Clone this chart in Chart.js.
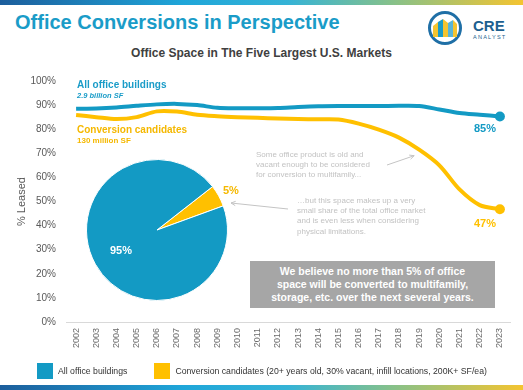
<!DOCTYPE html>
<html>
<head>
<meta charset="utf-8">
<script src="https://cdn.jsdelivr.net/npm/chart.js@4"></script>
<style>
    html, body { margin: 0; padding: 0; background: #fff; }
    body { font-family: "Liberation Sans", Arial, sans-serif; }
    #strona { position: relative; width: 523px; height: 390px; overflow: hidden; }
    .pasek { position: absolute; left: 0; width: 523px; height: 5px;
        background: linear-gradient(to right, #1c5e9c 0%, #1fa6d9 35%, #35b3d6 55%, #86c18a 75%, #f4c430 100%); }
    .tekst { position: absolute; white-space: nowrap; pointer-events: none; }
    #tytul { left: 15px; top: 12px; font-size: 20px; font-weight: bold; color: #1a9cc8; line-height: 20px; }
    #podtytul { left: 0; width: 523px; text-align: center; top: 47px; font-size: 12px; font-weight: bold; color: #404040; line-height: 12px; }
    #wykres { position: absolute; left: 0; top: 0; }
    #kolo { position: absolute; left: 86px; top: 159px; }
    .szary { color: #c2c2c2; font-size: 8px; line-height: 10.2px; }
    #ramka { position: absolute; left: 250px; top: 261px; width: 245px; height: 47px; background: #a6a6a6;
        color: #fff; font-weight: bold; font-size: 10.5px; line-height: 13px; text-align: center;
        box-sizing: border-box; padding-top: 4px; }
    #legenda { position: absolute; top: 363px; left: 37px; font-size: 8.7px; color: #333; display: flex; align-items: center; }
    #legenda span.kw { display: inline-block; width: 16px; height: 16px; margin-right: 5px; }
</style>
</head>
<body>
<div id="strona">
    <div class="pasek" style="top:0"></div>
    <div class="pasek" style="top:385px"></div>

    <div id="tytul" class="tekst">Office Conversions in Perspective</div>
    <svg style="position:absolute;left:426px;top:11px" width="92" height="36" viewBox="0 0 92 36">
        <circle cx="19" cy="17" r="15.5" fill="#fff" stroke="#1f6fa6" stroke-width="3"/>
        <polygon points="7,26 7,15 12,11 12,26" fill="#f4c430"/>
        <polygon points="12,26 12,11 17,8 17,26" fill="#1a9cc8"/>
        <polygon points="17,26 17,8 22,12 22,26" fill="#f4c430"/>
        <polygon points="22,26 22,12 27,9 27,26" fill="#58b5d8"/>
        <polygon points="27,26 27,9 31,13 31,26" fill="#f4c430"/>
        <text x="47" y="20" font-family="Liberation Sans, Arial" font-weight="bold" font-size="15" fill="#1d5f8f">CRE</text>
        <text x="47" y="28" font-family="Liberation Sans, Arial" font-size="5.6" letter-spacing="1.2" fill="#1d5f8f">ANALYST</text>
    </svg>
    <div id="podtytul" class="tekst">Office Space in The Five Largest U.S. Markets</div>

    <canvas id="wykres" width="523" height="390"></canvas>
    <canvas id="kolo" width="142" height="142"></canvas>

    <div class="tekst" style="left:77px;top:80px;font-size:10px;font-weight:bold;color:#1a9cc8;line-height:10px">All office buildings</div>
    <div class="tekst" style="left:77px;top:92px;font-size:7.5px;font-weight:bold;font-style:italic;color:#1a9cc8;line-height:8px">2.9 billion SF</div>
    <div class="tekst" style="left:77px;top:125px;font-size:10px;font-weight:bold;color:#f5b800;line-height:10px">Conversion candidates</div>
    <div class="tekst" style="left:77px;top:137px;font-size:8px;font-weight:bold;color:#f5b800;line-height:8px">130 million SF</div>

    <div class="tekst szary" style="left:256px;top:150px">Some office product is old and<br>vacant enough to be considered<br>for conversion to multifamily...</div>
    <div class="tekst szary" style="left:297px;top:196px">…but this space makes up a very<br>small share of the total office market<br>and is even less when considering<br>physical limitations.</div>

    <div class="tekst" style="left:110px;top:245px;font-size:11px;font-weight:bold;color:#fff;line-height:11px">95%</div>
    <div class="tekst" style="left:223px;top:185px;font-size:11px;font-weight:bold;color:#f5b800;line-height:11px">5%</div>

    <div id="ramka">We believe no more than 5% of office<br>space will be converted to multifamily,<br>storage, etc. over the next several years.</div>

    <div id="legenda">
        <span class="kw" style="background:#139ac4"></span><span>All office buildings</span>
        <span class="kw" style="background:#ffc000;margin-left:27px"></span><span>Conversion candidates (20+ years old, 30% vacant, infill locations, 200K+ SF/ea)</span>
    </div>
</div>

<script>
// dane
const lata = ['2002', '2003', '2004', '2005', '2006', '2007', '2008', '2009', '2010', '2011', '2012',
    '2013', '2014', '2015', '2016', '2017', '2018', '2019', '2020', '2021', '2022', '2023'];
const wszystkieBiura = [88.5, 88.6, 89.0, 89.7, 90.3, 90.5, 90.0, 88.9, 88.7, 88.7, 88.8,
    89.2, 89.5, 89.6, 89.6, 89.6, 89.7, 89.6, 88.2, 86.7, 86.0, 85.3];
const kandydaci = [85.9, 85.0, 84.2, 85.0, 87.4, 87.3, 86.0, 85.4, 85.0, 84.7, 84.4,
    84.2, 84.1, 84.0, 82.3, 79.8, 76.5, 71.5, 65.0, 55.0, 48.5, 46.8];
const udzialy = [5, 95];          // kandydaci vs reszta
const etykietyOsiY = [0, 10, 20, 30, 40, 50, 60, 70, 80, 90, 100];

const NIEBIESKI = '#139ac4';
const ZOLTY = '#ffc000';
const ostatni = lata.length - 1;

// strzałki i etykiety końcowe
const dodatki = {
    id: 'dodatki',
    afterDatasetsDraw(chart) {
        const ctx = chart.ctx;
        const x = chart.scales.x, y = chart.scales.y;
        ctx.save();
        ctx.strokeStyle = '#c4c4c4';
        ctx.fillStyle = '#c4c4c4';
        ctx.lineWidth = 1;
        const strzalka = (x1, y1, x2, y2) => {
            ctx.beginPath(); ctx.moveTo(x1, y1); ctx.lineTo(x2, y2); ctx.stroke();
            const a = Math.atan2(y2 - y1, x2 - x1);
            ctx.beginPath();
            ctx.moveTo(x2, y2);
            ctx.lineTo(x2 - 5 * Math.cos(a - 0.45), y2 - 5 * Math.sin(a - 0.45));
            ctx.moveTo(x2, y2);
            ctx.lineTo(x2 - 5 * Math.cos(a + 0.45), y2 - 5 * Math.sin(a + 0.45));
            ctx.stroke();
        };
        // do linii kandydatów około 2019
        const i19 = lata.indexOf('2019');
        strzalka(387, 165, x.getPixelForValue(i19) - 5, y.getPixelForValue(kandydaci[i19]) + 6);
        // do wycinka 5%
        strzalka(288, 209, 231, 203);

        ctx.font = 'bold 11px "Liberation Sans", Arial';
        ctx.textAlign = 'center';
        ctx.textBaseline = 'alphabetic';
        const xe = x.getPixelForValue(ostatni) - 15;
        ctx.fillStyle = NIEBIESKI;
        ctx.fillText(Math.round(wszystkieBiura[ostatni]) + '%', xe, y.getPixelForValue(wszystkieBiura[ostatni]) + 16);
        ctx.fillStyle = ZOLTY;
        ctx.fillText(Math.round(kandydaci[ostatni]) + '%', xe, y.getPixelForValue(kandydaci[ostatni]) + 18);
        ctx.restore();
    }
};

const promienPunktu = c => c.dataIndex === ostatni ? 5 : 0;

new Chart(document.getElementById('wykres'), {
    type: 'line',
    data: {
        labels: lata,
        datasets: [
            {
                label: 'All office buildings',
                data: wszystkieBiura,
                borderColor: NIEBIESKI,
                backgroundColor: NIEBIESKI,
                borderWidth: 4,
                tension: 0.3,
                pointRadius: promienPunktu,
                pointBorderWidth: 0
            },
            {
                label: 'Conversion candidates',
                data: kandydaci,
                borderColor: ZOLTY,
                backgroundColor: ZOLTY,
                borderWidth: 4,
                tension: 0.3,
                pointRadius: promienPunktu,
                pointBorderWidth: 0
            }
        ]
    },
    options: {
        responsive: false,
        animation: false,
        layout: { padding: { left: 13, right: 13, top: 81, bottom: 36 } },
        plugins: {
            legend: { display: false },
            tooltip: { enabled: false }
        },
        scales: {
            x: {
                offset: true,
                grid: { display: false, drawTicks: false },
                border: { display: true, color: '#d9d9d9', width: 1 },
                afterFit: s => { s.height = 32; },
                ticks: {
                    minRotation: 90, maxRotation: 90, padding: 6,
                    color: '#6b6b6b',
                    font: { family: '"Liberation Sans", Arial', size: 9 }
                }
            },
            y: {
                min: etykietyOsiY[0],
                max: etykietyOsiY[etykietyOsiY.length - 1],
                grid: { display: false, drawTicks: false },
                border: { display: false },
                afterFit: s => { s.width = 53; },
                afterBuildTicks: s => { s.ticks = etykietyOsiY.map(v => ({ value: v })); },
                ticks: {
                    padding: 10,
                    color: '#595959',
                    font: { family: '"Liberation Sans", Arial', size: 10 },
                    callback: v => v + '%'
                },
                title: {
                    display: true,
                    text: '% Leased',
                    color: '#595959',
                    padding: 2,
                    font: { family: '"Liberation Sans", Arial', size: 11 }
                }
            }
        }
    },
    plugins: [dodatki]
});

new Chart(document.getElementById('kolo'), {
    type: 'pie',
    data: {
        labels: ['Conversion candidates', 'All other office'],
        datasets: [{
            data: udzialy,
            backgroundColor: [ZOLTY, NIEBIESKI],
            borderColor: '#ffffff',
            borderWidth: 1
        }]
    },
    options: {
        responsive: false,
        animation: false,
        rotation: 52,
        plugins: { legend: { display: false }, tooltip: { enabled: false } }
    }
});
</script>
</body>
</html>
